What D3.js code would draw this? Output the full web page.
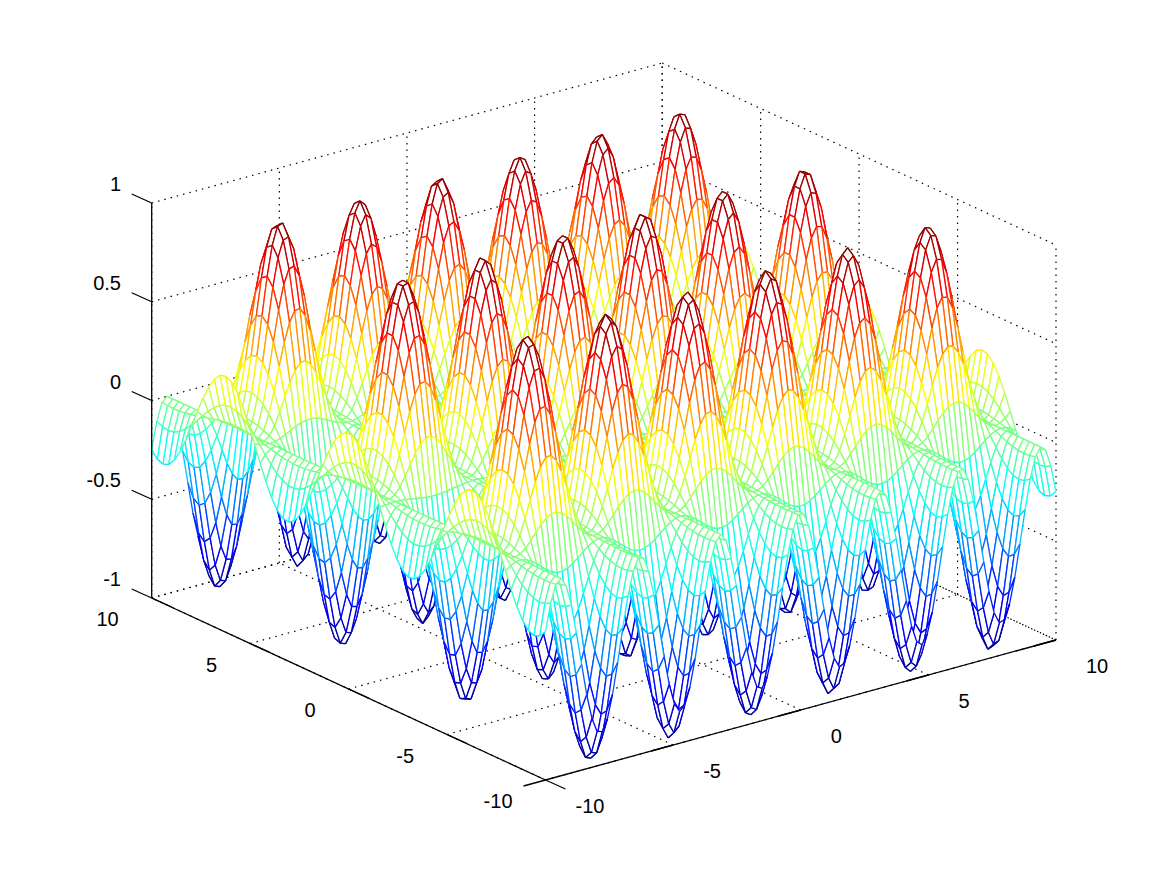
<!DOCTYPE html>
<html><head><meta charset="utf-8">
<script src="https://cdn.jsdelivr.net/npm/d3@7"></script>
<style>html,body{margin:0;padding:0;background:#fff}svg{display:block}text{font-family:"Liberation Sans",Arial,sans-serif;font-size:20px;fill:#000}</style>
</head><body>
<script>
// Grid coordinates and tick labels
const xGrid=[-10,-9.798,-9.596,-9.394,-9.192,-8.99,-8.788,-8.586,-8.384,-8.182,-7.98,-7.778,-7.576,-7.374,-7.172,-6.97,-6.768,-6.566,-6.364,-6.162,-5.96,-5.758,-5.556,-5.354,-5.152,-4.949,-4.747,-4.545,-4.343,-4.141,-3.939,-3.737,-3.535,-3.333,-3.131,-2.929,-2.727,-2.525,-2.323,-2.121,-1.919,-1.717,-1.515,-1.313,-1.111,-.909,-.707,-.505,-.303,-.101,.101,.303,.505,.707,.909,1.111,1.313,1.515,1.717,1.919,2.121,2.323,2.525,2.727,2.929,3.131,3.333,3.535,3.737,3.939,4.141,4.343,4.545,4.747,4.949,5.152,5.354,5.556,5.758,5.96,6.162,6.364,6.566,6.768,6.97,7.172,7.374,7.576,7.778,7.98,8.182,8.384,8.586,8.788,8.99,9.192,9.394,9.596,9.798,10];
const yGrid=[-10,-9.71,-9.42,-9.13,-8.84,-8.55,-8.26,-7.97,-7.68,-7.39,-7.1,-6.81,-6.52,-6.23,-5.94,-5.65,-5.36,-5.07,-4.78,-4.49,-4.2,-3.91,-3.62,-3.33,-3.04,-2.75,-2.46,-2.17,-1.88,-1.59,-1.3,-1.01,-.72,-.43,-.14,.14,.43,.72,1.01,1.3,1.59,1.88,2.17,2.46,2.75,3.04,3.33,3.62,3.91,4.2,4.49,4.78,5.07,5.36,5.65,5.94,6.23,6.52,6.81,7.1,7.39,7.68,7.97,8.26,8.55,8.84,9.13,9.42,9.71,10];
// The surface is stored as two typed tables (a cross-section along x, a wave along y):
// each cell of the surface is xProfile[i] * yProfile[j]. The tables were tabulated from a
// curve fitted to the picture's peaks, troughs and edges, not read point by point.
const xProfile=[.296,.133,.029,.001,.053,.178,.355,.553,.745,.896,.984,.994,.925,.787,.602,.402,.217,.078,.006,.015,.101,.252,.442,.642,.819,.945,.999,.972,.870,.708,.513,.315,.147,.036,0,.044,.162,.334,.533,.726,.883,.979,.997,.935,.803,.622,.422,.234,.089,.010,.010,.089,.234,.422,.622,.803,.935,.997,.979,.883,.726,.533,.334,.162,.044,0,.036,.147,.315,.513,.708,.870,.972,.999,.945,.819,.642,.442,.252,.101,.015,.006,.078,.217,.402,.602,.787,.925,.994,.984,.896,.745,.553,.355,.178,.053,.001,.029,.133,.296];
const yProfile=[-.839,-.960,-1,-.957,-.834,-.642,-.396,-.117,.172,.447,.684,.864,.972,.999,.942,.807,.605,.352,.070,-.218,-.488,-.717,-.886,-.982,-.995,-.926,-.779,-.567,-.308,-.023,.263,.528,.749,.907,.990,.990,.907,.749,.528,.263,-.023,-.308,-.567,-.779,-.926,-.995,-.982,-.886,-.717,-.488,-.218,.070,.352,.605,.807,.942,.999,.972,.864,.684,.447,.172,-.117,-.396,-.642,-.834,-.957,-1,-.960,-.839];
const xTicks=[-10,-5,0,5,10];
const yTicks=[-10,-5,0,5,10];
const zTicks=[-1,-0.5,0,0.5,1];
const jetStops=[0,.125,.375,.5,.625,.875,1];
const jetColors=["#000090","#0000ff","#00ffff","#80ff80","#ffff00","#ff0000","#800000"];

const W=1167,H=875;
const svg=d3.select("body").append("svg").attr("width",W).attr("height",H);
svg.append("rect").attr("width",W).attr("height",H).attr("fill","#fff");

// Oblique axes: scales map data to 0..1, then three screen vectors place them
const O=[545.5,780],VX=[510.5,-140],VY=[-393.8,-182],VZ=[0,-395];
const sx=d3.scaleLinear().domain([-10,10]).range([0,1]);
const sy=d3.scaleLinear().domain([-10,10]).range([0,1]);
const sz=d3.scaleLinear().domain([-1,1]).range([0,1]);
const P=(x,y,z)=>[O[0]+sx(x)*VX[0]+sy(y)*VY[0]+sz(z)*VZ[0],
                  O[1]+sx(x)*VX[1]+sy(y)*VY[1]+sz(z)*VZ[1]];
const jetT=d3.scaleLinear().domain(jetStops).range(jetColors).interpolate(d3.interpolateRgb);
const color=z=>jetT(Math.round((z+1)/2*63)/63);

const seg=(a,b)=>({a,b});
// Dotted box and grid
const dotted=[];
xTicks.forEach(x=>{dotted.push(seg(P(x,-10,-1),P(x,10,-1)));dotted.push(seg(P(x,10,-1),P(x,10,1)));});
yTicks.forEach(y=>{dotted.push(seg(P(-10,y,-1),P(10,y,-1)));dotted.push(seg(P(10,y,-1),P(10,y,1)));});
zTicks.forEach(z=>{dotted.push(seg(P(-10,10,z),P(10,10,z)));dotted.push(seg(P(10,10,z),P(10,-10,z)));});
svg.append("g").selectAll("line").data(dotted).join("line")
 .attr("x1",d=>d.a[0]).attr("y1",d=>d.a[1]).attr("x2",d=>d.b[0]).attr("y2",d=>d.b[1])
 .attr("stroke","#000").attr("stroke-width",1.2).attr("stroke-dasharray","1.5 5");

// Solid axes and ticks
const solid=[seg(P(-10,-10,-1),P(10,-10,-1)),seg(P(-10,-10,-1),P(-10,10,-1)),seg(P(-10,10,-1),P(-10,10,1))];
xTicks.forEach(x=>{const p=P(x,-10,-1);solid.push(seg(p,[p[0]-22,p[1]+6]));});
yTicks.forEach(y=>{const p=P(-10,y,-1);solid.push(seg(p,[p[0]+20,p[1]+9]));});
zTicks.forEach(z=>{const p=P(-10,10,z);solid.push(seg(p,[p[0]-20,p[1]-9]));});

// Mesh painted back to front: white face, then coloured edges
const n=xGrid.length,m=yGrid.length;
const Z=(i,j)=>xProfile[i]*yProfile[j];
const V=(i,j)=>P(xGrid[i],yGrid[j],Z(i,j));
const f=p=>p[0].toFixed(1)+","+p[1].toFixed(1);
const items=[];
for(let i=n-2;i>=0;i--)for(let j=m-2;j>=0;j--){
  const a=V(i,j),b=V(i+1,j),c=V(i+1,j+1),e=V(i,j+1);
  items.push({d:`M${f(a)}L${f(b)}L${f(c)}L${f(e)}Z`,fill:"#fff",stroke:"none"});
  const edges=[[a,b,Z(i,j),Z(i+1,j)],[b,c,Z(i+1,j),Z(i+1,j+1)],[c,e,Z(i+1,j+1),Z(i,j+1)],[e,a,Z(i,j+1),Z(i,j)]];
  const groups=new Map();
  edges.forEach(([p,q,z1,z2])=>{
    const col=color((z1+z2)/2);
    groups.set(col,(groups.get(col)||"")+`M${f(p)}L${f(q)}`);
  });
  groups.forEach((d,col)=>items.push({d,fill:"none",stroke:col}));
}
svg.append("g").selectAll("path").data(items).join("path")
 .attr("d",d=>d.d).attr("fill",d=>d.fill).attr("stroke",d=>d.stroke).attr("stroke-width",1.3);

svg.append("g").selectAll("line").data(solid).join("line")
 .attr("x1",d=>d.a[0]).attr("y1",d=>d.a[1]).attr("x2",d=>d.b[0]).attr("y2",d=>d.b[1])
 .attr("stroke","#000").attr("stroke-width",1.3);

// Tick labels
const lab=svg.append("g");
xTicks.forEach(x=>{const p=P(x,-10,-1);lab.append("text").attr("x",p[0]+30).attr("y",p[1]+33).attr("text-anchor","start").text(x);});
yTicks.forEach(y=>{const p=P(-10,y,-1);lab.append("text").attr("x",p[0]-33).attr("y",p[1]+28).attr("text-anchor","end").text(y);});
zTicks.forEach(z=>{const p=P(-10,10,z);lab.append("text").attr("x",121).attr("y",p[1]-12).attr("text-anchor","end").text(z);});
</script>
</body></html>
